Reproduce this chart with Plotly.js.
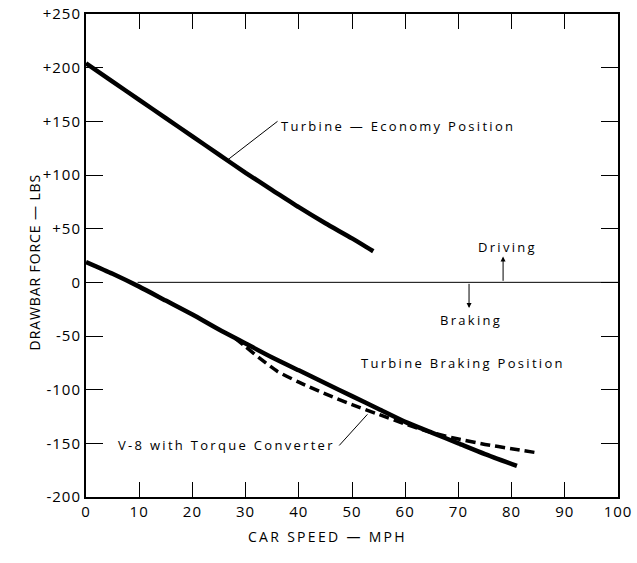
<!DOCTYPE html>
<html>
<head>
<meta charset="utf-8">
<script src="https://cdn.plot.ly/plotly-3.0.1.min.js"></script>
<style>
  html, body { margin: 0; padding: 0; background: #fff; }
  #chart { width: 637px; height: 563px; }
  .annotation-text { letter-spacing: 2.3px; }
  g.annotation[data-index="1"] .annotation-text { letter-spacing: 0.9px; }
  .xtick text, .ytick text { letter-spacing: 1px; }
</style>
</head>
<body>
<div id="chart"></div>
<script>
// Car speed (mph) and drawbar force (lbs)
const economySpeed = [0, 5, 10, 15, 20, 25, 30, 35, 40, 45, 50, 54];
const economyForce = [204, 187, 170, 153, 136, 119, 102, 86, 70, 55, 41, 29];

const brakingSpeed = [0, 5, 10, 15, 20, 25, 30, 35, 40, 45, 50, 55, 60, 65, 70, 75, 81];
const brakingForce = [19, 8, -4, -17, -30, -44, -57, -70, -82, -94, -106, -118, -130, -140, -150, -160, -171];

const v8Speed = [28, 30, 33, 36, 40, 45, 50, 55, 60, 65, 70, 75, 80, 85];
const v8Force = [-52, -60, -72, -83, -93, -104, -114, -123, -132, -140, -146, -151, -155, -159];

const xTickVals = [0, 10, 20, 30, 40, 50, 60, 70, 80, 90, 100];
const yTickVals = [250, 200, 150, 100, 50, 0, -50, -100, -150, -200];
const yTickText = ['+250', '+200', '+150', '+100', '+50', '0', '-50', '-100', '-150', '-200'];

const xTitle = 'CAR SPEED — MPH';
const yTitle = 'DRAWBAR FORCE — LBS';

const labelFont = {family: 'Open Sans, DejaVu Sans, sans-serif', size: 13, color: '#000'};
const titleFont = {family: 'Open Sans, DejaVu Sans, sans-serif', size: 14, color: '#000'};

const traces = [
  {x: economySpeed, y: economyForce, mode: 'lines', line: {color: '#000', width: 4.5, shape: 'spline', smoothing: 0.6}, name: 'Turbine — Economy Position'},
  {x: brakingSpeed, y: brakingForce, mode: 'lines', line: {color: '#000', width: 4.5, shape: 'spline', smoothing: 0.6}, name: 'Turbine Braking Position'},
  {x: v8Speed, y: v8Force, mode: 'lines', line: {color: '#000', width: 3.5, dash: '10px,5px', shape: 'spline', smoothing: 0.6}, name: 'V-8 with Torque Converter'}
];

const layout = {
  width: 637, height: 563,
  margin: {l: 86, r: 19, t: 14, b: 66},
  paper_bgcolor: '#fff', plot_bgcolor: '#fff',
  showlegend: false,
  font: {family: 'Open Sans, DejaVu Sans, sans-serif', color: '#000'},
  xaxis: {
    range: [0, 100], tickvals: xTickVals, ticks: 'inside', ticklen: 15, tickwidth: 1, tickcolor: '#000',
    showline: true, linewidth: 2, linecolor: '#000', mirror: 'ticks', showgrid: false, zeroline: false,
    tickfont: {size: 15, color: '#000'}
  },
  yaxis: {
    range: [-200, 250], tickvals: yTickVals, ticktext: yTickText, ticks: 'inside', ticklen: 17, tickwidth: 1, tickcolor: '#000',
    showline: true, linewidth: 2, linecolor: '#000', mirror: 'ticks', showgrid: false, zeroline: false,
    tickfont: {size: 15, color: '#000'}
  },
  shapes: [
    {type: 'line', xref: 'x', yref: 'y', x0: 9.7, x1: 100, y0: 0, y1: 0, line: {color: '#000', width: 1}},
    {type: 'line', xref: 'x', yref: 'y', x0: 26.6, y0: 114, x1: 36, y1: 150, line: {color: '#000', width: 1}},
    {type: 'line', xref: 'x', yref: 'y', x0: 47.6, y0: -152, x1: 52.9, y1: -123, line: {color: '#000', width: 1}}
  ],
  annotations: [
    {x: 0.454, y: -0.106, xref: 'paper', yref: 'paper', text: xTitle, showarrow: false, font: titleFont},
    {x: -0.12, y: 0.4865, xref: 'paper', yref: 'paper', text: yTitle, textangle: -90, showarrow: false, font: titleFont},
    {x: 36.2, y: 146, xref: 'x', yref: 'y', xanchor: 'left', yanchor: 'middle', text: 'Turbine — Economy Position', showarrow: false, font: labelFont},
    {x: 79.3, y: 33, xref: 'x', yref: 'y', text: 'Driving', showarrow: false, font: labelFont},
    {x: 78.4, y: 24, ax: 78.4, ay: 0, xref: 'x', yref: 'y', axref: 'x', ayref: 'y', text: '', showarrow: true, arrowhead: 2, arrowsize: 1, arrowwidth: 1, arrowcolor: '#000'},
    {x: 72.4, y: -35, xref: 'x', yref: 'y', text: 'Braking', showarrow: false, font: labelFont},
    {x: 72, y: -24, ax: 72, ay: 0, xref: 'x', yref: 'y', axref: 'x', ayref: 'y', text: '', showarrow: true, arrowhead: 2, arrowsize: 1, arrowwidth: 1, arrowcolor: '#000'},
    {x: 70.8, y: -75, xref: 'x', yref: 'y', text: 'Turbine Braking Position', showarrow: false, font: labelFont},
    {x: 47.2, y: -152, xref: 'x', yref: 'y', xanchor: 'right', yanchor: 'middle', text: 'V-8 with Torque Converter', showarrow: false, font: labelFont}
  ]
};

Plotly.newPlot('chart', traces, layout, {displayModeBar: false, staticPlot: true});
</script>
</body>
</html>
